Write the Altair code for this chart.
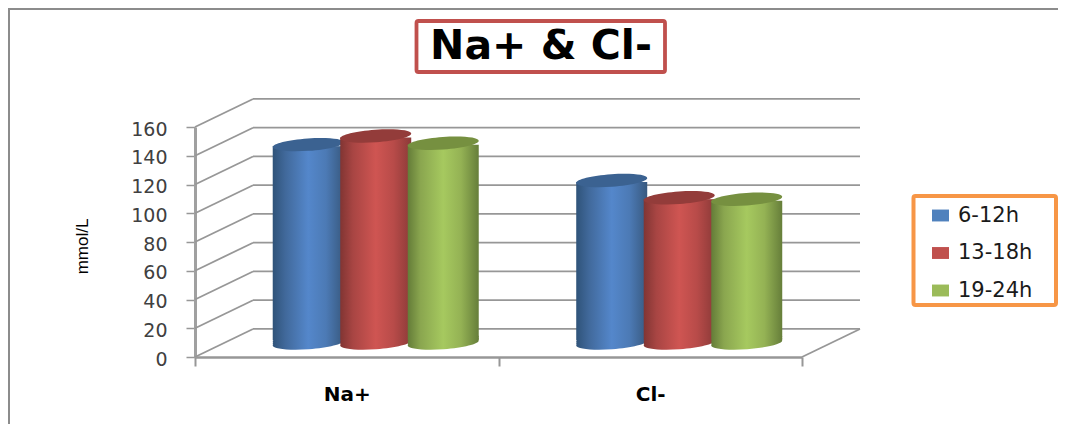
import altair as alt
import pandas as pd

groups = ["Na+", "Cl-"]
series = ["6-12h", "13-18h", "19-24h"]
na_values = [138, 144, 139]
cl_values = [113, 101, 100]
ticks = [0, 20, 40, 60, 80, 100, 120, 140, 160]
legend_colors = ["#4f81bd", "#c0504d", "#9bbb59"]
cap_colors = ["#3b6291", "#933c3a", "#769040"]
body_stops = [
    ["#2f5379", "#41699b", "#5487cb", "#4c7ab5", "#38597f"],
    ["#813533", "#a84543", "#cf5552", "#b84b49", "#8c3a38"],
    ["#647c38", "#8aa64f", "#a6c95f", "#94b254", "#667e3a"],
]
DEPTH = 19.5
GRID = "#979797"

rows = []
for g, vals in zip(groups, [na_values, cl_values]):
    for s, v in zip(series, vals):
        rows.append({"group": g, "series": s, "value": v, "base": 0})
df = pd.DataFrame(rows)
grid = pd.DataFrame({"tick": ticks, "back": [t + DEPTH for t in ticks]})

y_scale = alt.Scale(domain=[0, 160], nice=False, zero=False)
x_scale = alt.Scale(domain=groups, paddingInner=0, paddingOuter=0)
off_scale = alt.Scale(domain=series, paddingInner=0, paddingOuter=0.748, align=0.787)

x_axis = alt.Axis(
    title=None, labelAngle=0, tickBand="extent", tickSize=9, tickWidth=2, tickColor=GRID,
    domainColor=GRID, domainWidth=2.5, labelFont="DejaVu Sans", labelFontWeight="bold",
    labelFontSize=20, labelColor="#000000", labelPadding=18)
y_axis = alt.Axis(
    title="mmol/L", values=ticks, grid=False, tickSize=9, tickWidth=1.5, tickColor=GRID,
    domainColor="#a0a0a0", domainWidth=3, labelFont="DejaVu Sans", labelFontSize=19,
    labelColor="#404040", labelPadding=19, labelOffset=2,
    titleFont="Liberation Sans", titleFontSize=17,
    titleFontWeight="normal", titleColor="#000000", titleX=-104, titleY=119)
x_enc = alt.X("group:N", scale=x_scale, sort=groups, axis=x_axis)


def y_enc(field):
    return alt.Y(field + ":Q", scale=y_scale, axis=y_axis)


off_enc = alt.XOffset("series:N", scale=off_scale, sort=series)

LY = -14
ELLIPSE = "M-1,0.07 A1,0.175 -4 1 1 1,-0.07 A1,0.175 -4 1 1 -1,0.07 Z"

# walls
back_wall = alt.Chart(grid).mark_rule(color=GRID, strokeWidth=1.8).encode(
    x=alt.value(58), x2=alt.value(665), y=y_enc("back"))
side_wall = alt.Chart(grid).mark_rule(color=GRID, strokeWidth=1.8).encode(
    x=alt.value(0), x2=alt.value(58), y=y_enc("tick"), y2="back:Q")
floor_side = alt.Chart(grid[grid.tick == 0]).mark_rule(color=GRID, strokeWidth=1.8).encode(
    x=alt.value(607), x2=alt.value(665), y=y_enc("tick"), y2="back:Q")

# legend carrier, fully covered by the cylinders
base_bars = alt.Chart(df).mark_bar(size=69, yOffset=LY + 2, y2Offset=LY - 3).encode(
    x=x_enc, xOffset=off_enc, y=y_enc("value"), y2="base:Q",
    color=alt.Color("series:N", sort=series,
                    scale=alt.Scale(domain=series, range=legend_colors),
                    legend=alt.Legend(
                        title=None, orient="none", legendX=735, legendY=78,
                        symbolType="M-1,-0.7H1V0.7H-1Z", symbolSize=289, symbolStrokeWidth=0,
                        labelFont="DejaVu Sans", labelFontSize=21, labelColor="#1a1a1a",
                        labelOffset=7, rowPadding=15.5, padding=0)))

layers = [back_wall, side_wall, floor_side, base_bars]
for s, stops, cap in zip(series, body_stops, cap_colors):
    grad = alt.Gradient(
        gradient="linear", x1=0, x2=1, y1=0, y2=0,
        stops=[alt.GradientStop(color=c, offset=o)
               for c, o in zip(stops, [0, 0.18, 0.5, 0.75, 1])])
    sub = df[df.series == s]
    for lift in [4, 2, 0]:
        layers.append(alt.Chart(sub).mark_point(
            shape=ELLIPSE, size=5041, filled=True, fill=grad, opacity=1, yOffset=LY - lift
        ).encode(x=x_enc, xOffset=off_enc, y=y_enc("base")))
    layers.append(alt.Chart(sub).mark_bar(
        size=71, fill=grad, yOffset=LY + 1.5, y2Offset=LY - 3
    ).encode(x=x_enc, xOffset=off_enc, y=y_enc("value"), y2="base:Q"))
    layers.append(alt.Chart(sub).mark_point(
        shape=ELLIPSE, size=5041, filled=True, fill=cap, opacity=1, yOffset=LY
    ).encode(x=x_enc, xOffset=off_enc, y=y_enc("value")))

marker = pd.DataFrame({"k": [0]})
title_box = alt.Chart(marker).mark_rect(fillOpacity=0, stroke="#c0504d", strokeWidth=3.8, cornerRadius=2).encode(
    x=alt.value(221.5), x2=alt.value(470), y=alt.value(-106), y2=alt.value(-55))
legend_box = alt.Chart(marker).mark_rect(fillOpacity=0, stroke="#f79646", strokeWidth=4, cornerRadius=2).encode(
    x=alt.value(718.5), x2=alt.value(861), y=alt.value(69), y2=alt.value(178))
frame_left = alt.Chart(marker).mark_rule(color="#8c8c8c", strokeWidth=2).encode(
    x=alt.value(-186), y=alt.value(-118), y2=alt.value(300))
frame_top = alt.Chart(marker).mark_rule(color="#8c8c8c", strokeWidth=2).encode(
    x=alt.value(-187), x2=alt.value(863), y=alt.value(-118))
layers += [title_box, legend_box, frame_left, frame_top]

chart = alt.layer(*layers).properties(
    width=607, height=230,
    autosize=alt.AutoSizeParams(type="none"),
    padding={"left": 187, "top": 119, "right": 256, "bottom": 67},
    title=alt.TitleParams("Na+ & Cl-", font="DejaVu Sans", fontWeight="bold", fontSize=41,
                          color="#000000", anchor="middle", frame="group", dx=42.5, dy=64),
).configure_view(stroke=None)

chart.save("out.html", embed_options={"renderer": "svg", "actions": False})
